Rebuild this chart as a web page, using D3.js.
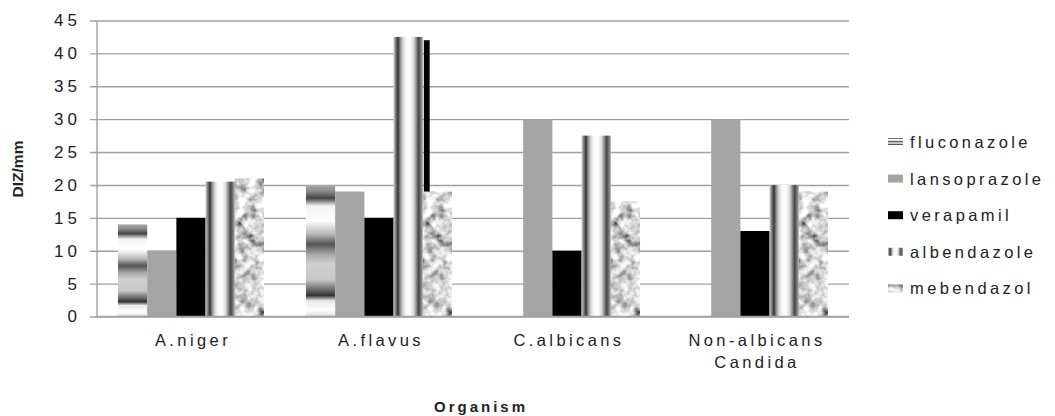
<!DOCTYPE html>
<html>
<head>
<meta charset="utf-8">
<script src="https://cdn.jsdelivr.net/npm/d3@7"></script>
<style>
  body { margin: 0; background: #fff; }
  svg { display: block; font-family: "Liberation Sans", Arial, sans-serif; }
</style>
</head>
<body>
<svg id="chart" width="1055" height="416"></svg>
<script>
const categories = ['A.niger', 'A.flavus', 'C.albicans', 'Non-albicans\nCandida'];
const drugs = ['fluconazole', 'lansoprazole', 'verapamil', 'albendazole', 'mebendazol'];
const fluconazole = [14, 20, 0, 0];
const lansoprazole = [10, 19, 30, 30];
const verapamil = [15, 15, 10, 13];
const albendazole = [20.5, 42.5, 27.5, 20];
const mebendazol = [21, 19, 17.5, 19];
const yTicks = [0, 5, 10, 15, 20, 25, 30, 35, 40, 45];
// thin black strip sticking out behind the A.flavus mebendazol bar
const strayBars = [{ category: 'A.flavus', value: 42 }];

const series = { fluconazole, lansoprazole, verapamil, albendazole, mebendazol };

const svg = d3.select('#chart');
const plotLeft = 97, plotRight = 849, plotTop = 20.5, plotBottom = 316.5;

const defs = svg.append('defs');

// horizontal metallic bands
const gFlu = defs.append('linearGradient').attr('id', 'g-flu')
  .attr('x1', 0).attr('y1', 0).attr('x2', 0).attr('y2', 1);
[[0, '#aaa'], [0.05, '#888'], [0.1, '#444'], [0.16, '#f4f4f4'], [0.27, '#fff'],
 [0.37, '#bbb'], [0.45, '#555'], [0.53, '#aaa'], [0.6, '#d0d0d0'], [0.72, '#c8c8c8'],
 [0.8, '#666'], [0.84, '#333'], [0.88, '#e8e8e8'], [0.95, '#fff'], [1, '#ddd']]
  .forEach(([o, c]) => gFlu.append('stop').attr('offset', o).attr('stop-color', c));

// vertical metallic bands
const gAlb = defs.append('linearGradient').attr('id', 'g-alb')
  .attr('x1', 0).attr('y1', 0).attr('x2', 1).attr('y2', 0);
[[0, '#ccc'], [0.08, '#777'], [0.15, '#333'], [0.22, '#888'], [0.3, '#ccc'],
 [0.4, '#f6f6f6'], [0.55, '#fff'], [0.68, '#ddd'], [0.78, '#888'], [0.86, '#444'],
 [0.93, '#777'], [1, '#aaa']]
  .forEach(([o, c]) => gAlb.append('stop').attr('offset', o).attr('stop-color', c));

// granite texture
const noise = defs.append('filter').attr('id', 'f-noise')
  .attr('x', 0).attr('y', 0).attr('width', 1).attr('height', 1);
noise.append('feTurbulence').attr('type', 'fractalNoise')
  .attr('baseFrequency', 0.1).attr('numOctaves', 3).attr('seed', 7);
noise.append('feGaussianBlur').attr('stdDeviation', 0.5);
noise.append('feColorMatrix').attr('type', 'matrix')
  .attr('values', '1.8 0 0 0 -0.25  1.8 0 0 0 -0.25  1.8 0 0 0 -0.25  0 0 0 0 1');
noise.append('feComposite').attr('in2', 'SourceGraphic').attr('operator', 'in');

const fills = {
  fluconazole: { fill: 'url(#g-flu)' },
  lansoprazole: { fill: '#a5a5a5' },
  verapamil: { fill: '#000' },
  albendazole: { fill: 'url(#g-alb)' },
  mebendazol: { fill: '#bbb', filter: 'url(#f-noise)' },
};

const x0 = d3.scaleBand().domain(categories).range([plotLeft, plotRight])
  .paddingInner(0.223).paddingOuter(0.1115);
const x1 = d3.scaleBand().domain(drugs).range([0, x0.bandwidth()]);
const y = d3.scaleLinear().domain([0, 45]).range([plotBottom, plotTop]);

// grid + y ticks
const yAxis = svg.append('g')
  .attr('transform', `translate(${plotLeft - 7},0)`)
  .call(d3.axisLeft(y).tickValues(yTicks).tickSize(-(plotRight - plotLeft + 7)).tickPadding(13));
yAxis.select('.domain').remove();
yAxis.selectAll('.tick line').attr('stroke', '#a0a0a0').attr('stroke-width', 1.4);
yAxis.selectAll('.tick text')
  .attr('font-size', 17).attr('fill', '#222').attr('letter-spacing', 4)
  .attr('font-family', '"Liberation Sans", Arial, sans-serif')
  .attr('dx', 4);

svg.append('line')
  .attr('x1', plotLeft).attr('x2', plotLeft).attr('y1', plotTop).attr('y2', plotBottom)
  .attr('stroke', '#a0a0a0').attr('stroke-width', 1.4);

// stray strip
svg.append('g').selectAll('rect').data(strayBars).join('rect')
  .attr('x', d => x0(d.category) + x1('mebendazol') + 1)
  .attr('width', x1.bandwidth() * 0.2)
  .attr('y', d => y(d.value))
  .attr('height', d => y(0) - y(d.value))
  .attr('fill', '#000');

// bars
const groups = svg.append('g').selectAll('g').data(categories).join('g')
  .attr('transform', d => `translate(${x0(d)},0)`);
groups.selectAll('rect')
  .data((c, i) => drugs.map(k => ({ key: k, value: series[k][i] })))
  .join('rect')
  .attr('x', d => x1(d.key))
  .attr('width', x1.bandwidth())
  .attr('y', d => y(d.value))
  .attr('height', d => y(0) - y(d.value))
  .attr('fill', d => fills[d.key].fill)
  .attr('filter', d => fills[d.key].filter || null);

// baseline on top
svg.append('line')
  .attr('x1', plotLeft).attr('x2', plotRight).attr('y1', plotBottom).attr('y2', plotBottom)
  .attr('stroke', '#a0a0a0').attr('stroke-width', 1.4);

// category labels
const catLabels = svg.append('g').selectAll('text').data(categories).join('text')
  .attr('x', d => x0(d) + x0.bandwidth() / 2 + 2)
  .attr('y', 346)
  .attr('text-anchor', 'middle')
  .attr('font-size', 16.5).attr('letter-spacing', 3.4).attr('fill', '#222');
catLabels.selectAll('tspan').data(d => d.split('\n')).join('tspan')
  .attr('x', function () { return d3.select(this.parentNode).attr('x'); })
  .attr('dy', (d, i) => (i === 0 ? 0 : 22))
  .text(d => d);

// axis titles
svg.append('text')
  .attr('x', 481).attr('y', 412)
  .attr('text-anchor', 'middle')
  .attr('font-size', 15).attr('font-weight', 'bold').attr('letter-spacing', 3)
  .attr('fill', '#222')
  .text('Organism');

svg.append('text')
  .attr('transform', 'translate(23,169) rotate(-90)')
  .attr('text-anchor', 'middle')
  .attr('font-size', 15.5).attr('font-weight', 'bold').attr('fill', '#222')
  .text('DIZ/mm');

// legend
const legend = svg.append('g').attr('transform', 'translate(888,142)');
const item = legend.selectAll('g').data(drugs).join('g')
  .attr('transform', (d, i) => `translate(0,${i * 36.6})`);
item.append('rect')
  .attr('x', 0).attr('y', -4).attr('width', 15).attr('height', 8)
  .attr('fill', d => fills[d].fill)
  .attr('filter', d => fills[d].filter || null);
item.append('text')
  .attr('x', 22).attr('y', 6)
  .attr('font-size', 16.5).attr('letter-spacing', 3.4).attr('fill', '#222')
  .text(d => d);
</script>
</body>
</html>
